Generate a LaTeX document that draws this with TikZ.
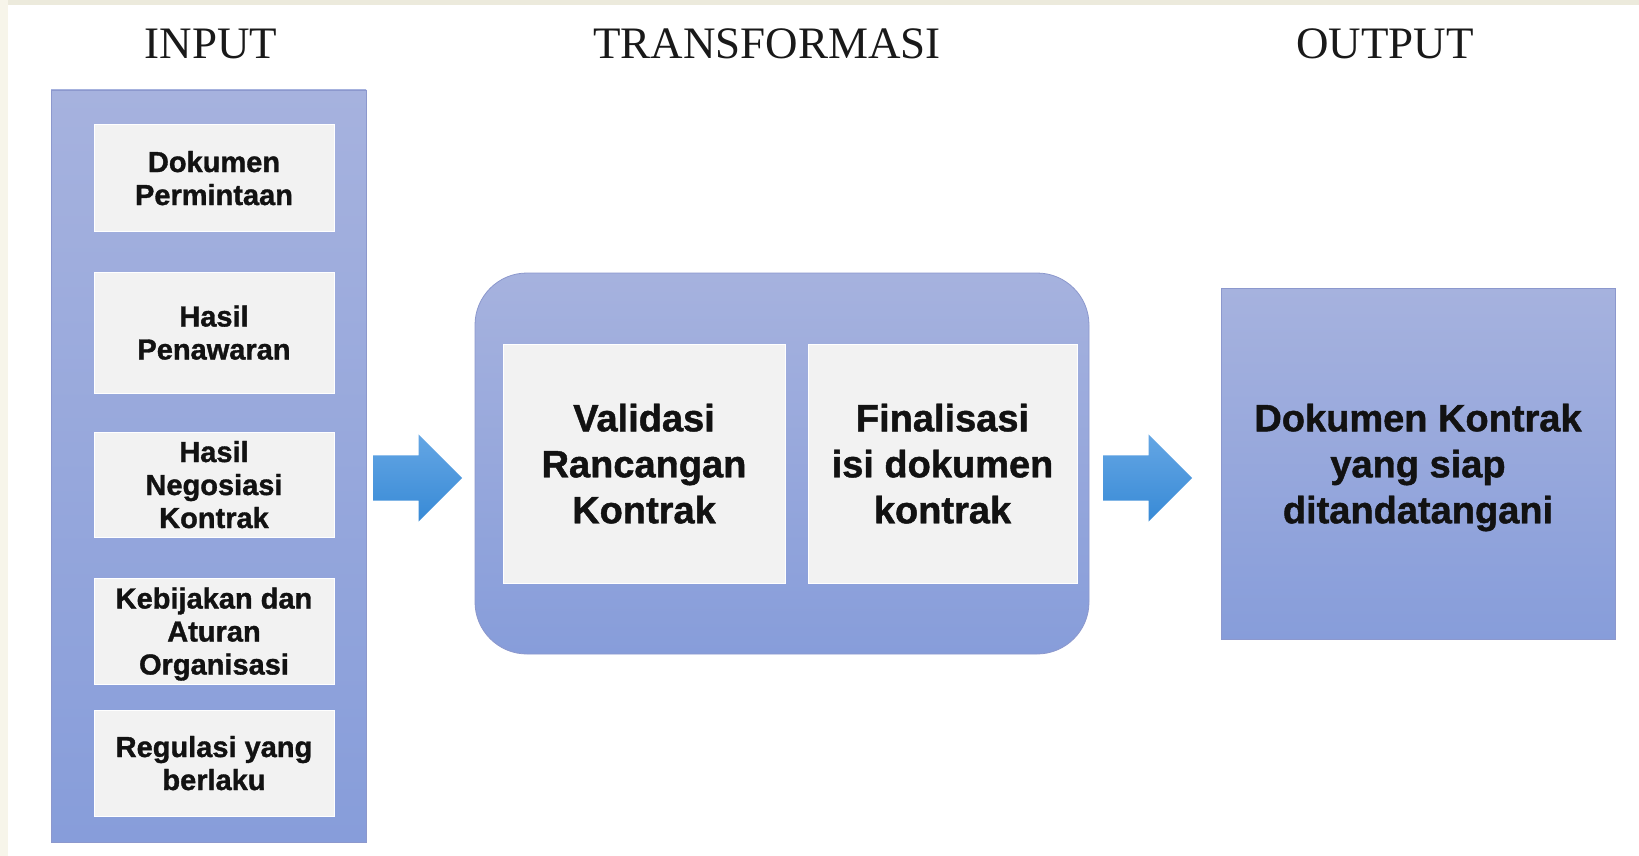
\documentclass[tikz,border=0pt]{standalone}
\usepackage{fontspec}
\setmainfont{Liberation Serif}
\newfontfamily\boxfont{Liberation Sans}[BoldFeatures={FakeBold=1.2}]
\usetikzlibrary{shapes.arrows}
\usetikzlibrary{positioning}
\definecolor{paneltop}{RGB}{166,178,222}
\definecolor{panelbot}{RGB}{135,157,218}
\definecolor{paneledge}{RGB}{140,152,205}
\definecolor{itemfill}{RGB}{242,242,242}
\definecolor{arrowtop}{RGB}{100,166,228}
\definecolor{arrowbot}{RGB}{56,138,214}
\definecolor{creamtop}{RGB}{236,234,220}
\definecolor{creamleft}{RGB}{247,245,234}
\tikzstyle{panel} = [draw=paneledge,line width=0.8pt,top color=paneltop,bottom color=panelbot,inner sep=0pt]
\tikzstyle{item} = [fill=itemfill,draw=white,line width=1pt,inner sep=0pt,align=center,text=black!93,
                    text depth=0pt,font=\boxfont\bfseries\fontsize{29}{33}\selectfont]
\tikzstyle{bigitem} = [item,font=\boxfont\bfseries\fontsize{38}{46}\selectfont]
\tikzstyle{header} = [inner sep=0pt,text=black!90,font=\fontsize{45}{50}\selectfont]
\tikzstyle{blockarrow} = [single arrow,single arrow head extend=21pt,single arrow tip angle=90,
                          inner xsep=0pt,inner ysep=22.5pt,minimum height=89pt,anchor=west,
                          top color=arrowtop,bottom color=arrowbot]

\begin{document}
\begin{tikzpicture}[x=1pt,y=-1pt]
    % page background with the cream edges
    \fill[white] (0,0) rectangle (1639,856);
    \fill[creamtop] (0,0) rectangle (1639,5);
    \fill[creamleft] (0,0) rectangle (8,856);
    \useasboundingbox (0,0) rectangle (1639,856);

    % column titles
    \node[header] (hin) at (211,44) {INPUT};
    \node[header] (htrans) at (767,44) {TRANSFORMASI};
    \node[header] (hout) at (1385,44) {OUTPUT};

    % input column
    \node[panel,minimum width=315pt,minimum height=752pt] (input) at (208.5,466) {};
    \node[item,minimum width=240pt,minimum height=106pt] (dokumen) at (214,178) {Dokumen\\Permintaan};
    \node[item,minimum width=240pt,minimum height=121pt] (penawaran) at (214,332.5) {Hasil\\Penawaran};
    \node[item,minimum width=240pt,minimum height=105pt] (negosiasi) at (214,484.5) {Hasil\\Negosiasi\\Kontrak};
    \node[item,minimum width=240pt,minimum height=106pt] (kebijakan) at (214,631) {Kebijakan dan\\Aturan\\Organisasi};
    \node[item,minimum width=240pt,minimum height=106pt] (regulasi) at (214,763) {Regulasi yang\\berlaku};

    % transformation block
    \node[panel,rounded corners=52pt,minimum width=614pt,minimum height=381pt] (trans) at (782,463.5) {};
    \node[bigitem,minimum width=282pt,minimum height=239pt] (validasi) at (644,463.5) {Validasi\\Rancangan\\Kontrak};
    \node[bigitem,minimum width=269pt,minimum height=239pt] (finalisasi) at (942.5,463.5) {Finalisasi\\isi dokumen\\kontrak};

    % output block
    \node[panel,align=center,text=black!93,text depth=0pt,font=\boxfont\bfseries\fontsize{38}{46}\selectfont,
          minimum width=394pt,minimum height=351pt] (output) at (1418,463.5)
          {Dokumen Kontrak\\yang siap\\ditandatangani};

    % arrows between the columns
    \node[blockarrow] (arrin) at (373,478) {};
    \node[blockarrow] (arrout) at (1103,478) {};
\end{tikzpicture}
\end{document}
